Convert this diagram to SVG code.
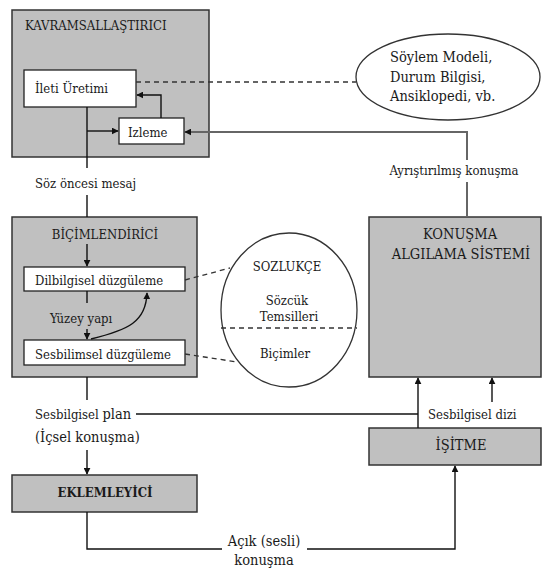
<svg xmlns="http://www.w3.org/2000/svg" width="544" height="570" viewBox="0 0 544 570">
  <style>
    text { font-family: "DejaVu Serif Condensed", "DejaVu Serif", serif; fill: #1a1a1a; font-size: 13px; }
    .mid { text-anchor: middle; }
    .big { font-size: 14.5px; }
    .module { fill: #c0c0c0; stroke: #333; stroke-width: 1.5; }
    .sub { fill: #fff; stroke: #222; stroke-width: 1.3; }
    .oval { fill: #fff; stroke: #333; stroke-width: 1.3; }
    .line { fill: none; stroke: #111; stroke-width: 1.4; }
    .gline { fill: none; stroke: #666; stroke-width: 2; }
    .dash { fill: none; stroke: #333; stroke-width: 1.3; stroke-dasharray: 5 4; }
  </style>
  <defs>
    <marker id="arrow" viewBox="0 0 10 10" refX="9" refY="5" markerWidth="7" markerHeight="7" orient="auto" markerUnits="userSpaceOnUse">
      <path d="M0 0 L10 5 L0 10 z" fill="#111"/>
    </marker>
  </defs>
  <rect width="544" height="570" fill="#fff"/>

  <!-- Conceptualizer -->
  <g id="kavramsallastirici">
    <rect class="module" x="12" y="10" width="197" height="147"/>
    <text x="25" y="30">KAVRAMSALLAŞTIRICI</text>
  </g>
  <g id="ileti-uretimi">
    <rect class="sub" x="24" y="70" width="112" height="37"/>
    <text x="35" y="93">İleti Üretimi</text>
  </g>
  <g id="izleme">
    <rect class="sub" x="119" y="118" width="65" height="26"/>
    <text x="128" y="137">Izleme</text>
  </g>
  <g id="soylem-modeli">
    <ellipse class="oval" cx="448" cy="77" rx="92" ry="43"/>
    <text x="390" y="62" class="big">Söylem Modeli,</text>
    <text x="390" y="82" class="big">Durum Bilgisi,</text>
    <text x="390" y="101" class="big">Ansiklopedi, vb.</text>
  </g>

  <!-- Formulator -->
  <g id="bicimlendirici">
    <rect class="module" x="12" y="217" width="185" height="160"/>
    <text x="105" y="239" class="mid">BİÇİMLENDİRİCİ</text>
  </g>
  <g id="dilbilgisel">
    <rect class="sub" x="24" y="267" width="161" height="24"/>
    <text x="35" y="285">Dilbilgisel düzgüleme</text>
  </g>
  <g id="sesbilimsel">
    <rect class="sub" x="24" y="340" width="161" height="25"/>
    <text x="35" y="359">Sesbilimsel düzgüleme</text>
  </g>
  <g id="sozlukce">
    <ellipse class="oval" cx="289" cy="310" rx="68" ry="77"/>
    <line class="dash" x1="221" y1="328" x2="357" y2="328"/>
    <text x="287" y="271" class="mid">SOZLUKÇE</text>
    <text x="287" y="305" class="mid">Sözcük</text>
    <text x="289" y="321" class="mid">Temsilleri</text>
    <text x="285" y="358" class="mid">Biçimler</text>
  </g>

  <!-- Speech comprehension system -->
  <g id="konusma-algilama">
    <rect class="module" x="369" y="217" width="172" height="160"/>
    <text x="460" y="239" class="mid big">KONUŞMA</text>
    <text x="461" y="259" class="mid big">ALGILAMA SİSTEMİ</text>
  </g>
  <g id="isitme">
    <rect class="module" x="369" y="428" width="172" height="37"/>
    <text x="461" y="450" class="mid big">İŞİTME</text>
  </g>

  <!-- Articulator -->
  <g id="eklemleyici">
    <rect class="module" x="12" y="475" width="185" height="37"/>
    <text x="105" y="497" class="mid" font-weight="bold">EKLEMLEYİCİ</text>
  </g>

  <!-- Connectors -->
  <g id="connectors">
    <!-- message generation to formulator -->
    <path class="line" d="M87 107 V168"/>
    <path class="line" d="M87 195 V217"/>
    <path class="line" d="M87 131 H118" marker-end="url(#arrow)"/>
    <path class="line" d="M161 118 V95 H137" marker-end="url(#arrow)"/>
    <path class="dash" d="M136 82 H356"/>
    <!-- parsed speech back to monitoring -->
    <path class="gline" d="M467 160 V132 H185" marker-end="url(#arrow)"/>
    <path class="gline" d="M467 182 V217"/>
    <!-- inside formulator -->
    <path class="line" d="M87 244 V266" marker-end="url(#arrow)"/>
    <path class="line" d="M87 291 V303"/>
    <path class="line" d="M87 329 V339" marker-end="url(#arrow)"/>
    <path class="line" d="M91 339 C128 330 146 322 147 293" marker-end="url(#arrow)"/>
    <path class="dash" d="M185 280 L230 268"/>
    <path class="dash" d="M185 354 L237 362"/>
    <!-- phonetic plan -->
    <path class="line" d="M87 377 V400"/>
    <path class="line" d="M87 450 V474" marker-end="url(#arrow)"/>
    <path class="line" d="M136 414 H418"/>
    <path class="line" d="M418 428 V378" marker-end="url(#arrow)"/>
    <path class="line" d="M492 402 V378" marker-end="url(#arrow)"/>
    <!-- overt speech -->
    <path class="line" d="M87 512 V549 H222"/>
    <path class="line" d="M307 549 H455 V466" marker-end="url(#arrow)"/>
  </g>

  <!-- Connector labels -->
  <g id="labels">
    <text x="35" y="188">Söz öncesi mesaj</text>
    <text x="454" y="175" class="mid">Ayrıştırılmış konuşma</text>
    <text x="50" y="323">Yüzey yapı</text>
    <text x="35" y="419">Sesbilgisel <tspan font-size="14.5">plan</tspan></text>
    <text x="35" y="442" class="big">(İçsel konuşma)</text>
    <text x="428" y="419">Sesbilgisel dizi</text>
    <text x="264" y="546" class="mid big">Açık (sesli)</text>
    <text x="264" y="565" class="mid big">konuşma</text>
  </g>
</svg>
